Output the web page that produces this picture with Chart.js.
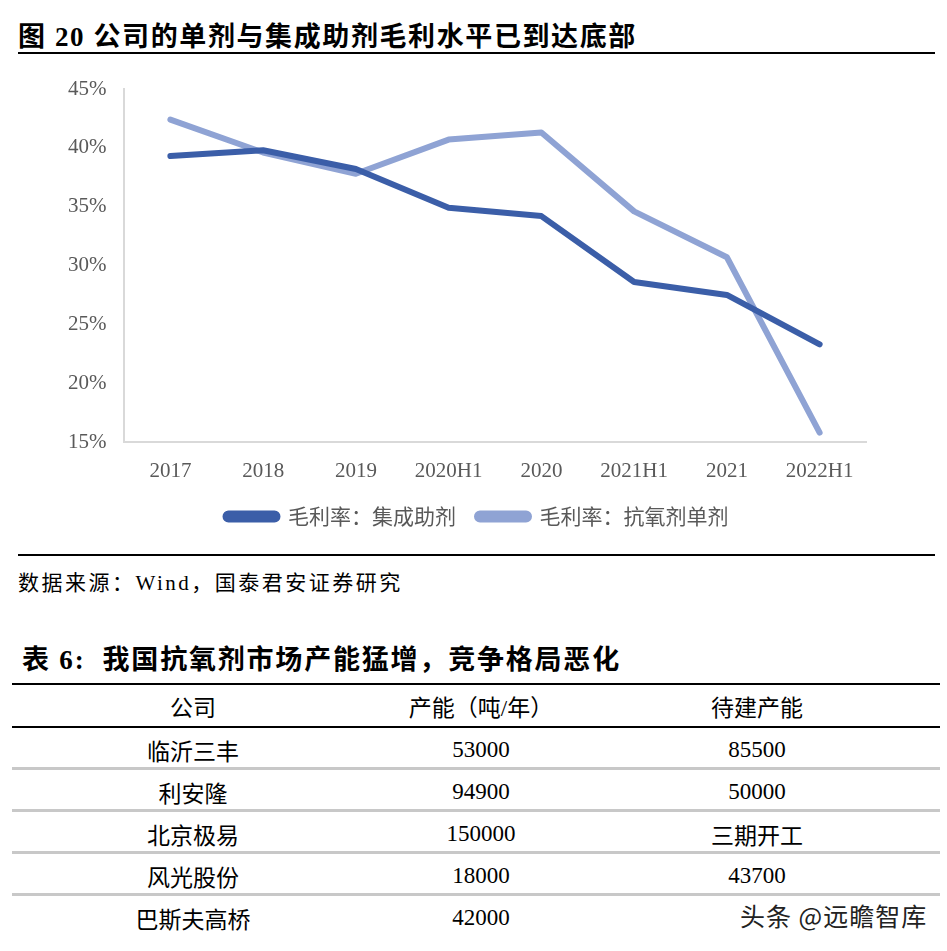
<!DOCTYPE html>
<html>
<head>
<meta charset="utf-8">
<script src="https://cdn.jsdelivr.net/npm/chart.js@4"></script>
<style>
  body { margin:0; width:947px; height:951px; background:#fff; position:relative; overflow:hidden;
         font-family:"Liberation Serif","Noto Sans CJK SC",serif; color:#000; }
  .title { position:absolute; left:18px; font-size:27px; font-weight:bold; line-height:1; white-space:nowrap; letter-spacing:1.6px; }
  .rule { position:absolute; left:18px; width:917px; height:2px; background:#000; }
  #chartBox { position:absolute; left:0; top:60px; width:947px; height:477px; }
  .src { position:absolute; left:18px; top:566px; font-size:21px; letter-spacing:2.5px; white-space:nowrap; }
  table { position:absolute; left:12px; top:683px; width:928px; border-collapse:collapse; table-layout:fixed; font-size:23px; }
  th, td { text-align:center; font-weight:normal; padding:0; }
  th { height:41px; border-top:2px solid #000; border-bottom:2px solid #000; }
  td { height:39px; border-bottom:3px solid #c8c8c8; }
  td span { position:relative; top:2px; }
  tr:last-child td { border-bottom:none; }
  .c3 { padding-right:14px; }
  .wm { position:absolute; left:740px; top:899px; font-family:"Noto Sans CJK SC",sans-serif; font-size:25px; color:#222;
        letter-spacing:1px; text-shadow:0 0 2px #fff; white-space:nowrap; line-height:1.3; }
</style>
</head>
<body>
<div class="title" style="top:24px">图 20 公司的单剂与集成助剂毛利水平已到达底部</div>
<div class="rule" style="top:52px"></div>
<div id="chartBox"><canvas id="chart"></canvas></div>
<div class="rule" style="top:554px"></div>
<div class="src">数据来源：Wind，国泰君安证券研究</div>
<div class="title" style="top:647px;left:22px;letter-spacing:1.8px">表 6:&nbsp; 我国抗氧剂市场产能猛增，竞争格局恶化</div>
<table id="tbl"></table>
<div class="wm">头条 @远瞻智库</div>
<script>
const categories = ['2017', '2018', '2019', '2020H1', '2020', '2021H1', '2021', '2022H1'];
const integrated = [39.3, 39.8, 38.2, 34.9, 34.2, 28.6, 27.5, 23.3];   // 毛利率：集成助剂
const single = [42.4, 39.6, 37.8, 40.7, 41.3, 34.6, 30.7, 15.8];       // 毛利率：抗氧剂单剂
const seriesNames = ['毛利率：集成助剂', '毛利率：抗氧剂单剂'];

const tableHead = ['公司', '产能（吨/年）', '待建产能'];
const companies = ['临沂三丰', '利安隆', '北京极易', '风光股份', '巴斯夫高桥'];
const capacity = ['53000', '94900', '150000', '18000', '42000'];
const planned = ['85500', '50000', '三期开工', '43700', ''];

// table
let html = '<colgroup><col style="width:362px"><col style="width:214px"><col style="width:352px"></colgroup>';
html += '<tr>' + tableHead.map((h, i) => '<th' + (i == 2 ? ' class="c3"' : '') + '>' + h + '</th>').join('') + '</tr>';
for (let i = 0; i < companies.length; i++) {
  html += '<tr><td><span>' + companies[i] + '</span></td><td><span>' + capacity[i] +
          '</span></td><td class="c3"><span>' + planned[i] + '</span></td></tr>';
}
document.getElementById('tbl').innerHTML = html;

// chart
const tickFont = { family: 'Liberation Serif', size: 21 };
new Chart(document.getElementById('chart'), {
  type: 'line',
  data: {
    labels: categories,
    datasets: [
      { label: seriesNames[0], data: integrated, borderColor: '#3b5ea8', backgroundColor: '#3b5ea8',
        borderWidth: 6, pointRadius: 0, borderCapStyle: 'round', borderJoinStyle: 'round' },
      { label: seriesNames[1], data: single, borderColor: '#8fa3d4', backgroundColor: '#8fa3d4',
        borderWidth: 6, pointRadius: 0, borderCapStyle: 'round', borderJoinStyle: 'round' }
    ]
  },
  options: {
    responsive: true,
    maintainAspectRatio: false,
    animation: false,
    layout: { padding: { top: 29, right: 81, left: 88, bottom: 0 } },
    plugins: {
      tooltip: { enabled: false },
      legend: {
        position: 'bottom',
        labels: {
          boxWidth: 52, boxHeight: 6, useBorderRadius: true, borderRadius: 3,
          color: '#595959', font: { family: 'Noto Sans CJK SC', size: 21 }, padding: 21
        }
      }
    },
    scales: {
      x: {
        offset: true,
        grid: { display: false, drawTicks: false },
        border: { color: '#d9d9d9', width: 2 },
        ticks: { color: '#595959', font: tickFont, padding: 17, maxRotation: 0 },
        afterFit: s => { s.height = 43; }
      },
      y: {
        min: 15, max: 45,
        grid: { display: false, drawTicks: false },
        border: { color: '#d9d9d9', width: 2 },
        // mirrored with negative padding so the labels sit left of the axis without being clipped
        ticks: { stepSize: 5, color: '#595959', font: tickFont, mirror: true, padding: -56, callback: v => v + '%' },
        afterFit: s => { s.width = 36; }
      }
    }
  }
});
</script>
</body>
</html>
